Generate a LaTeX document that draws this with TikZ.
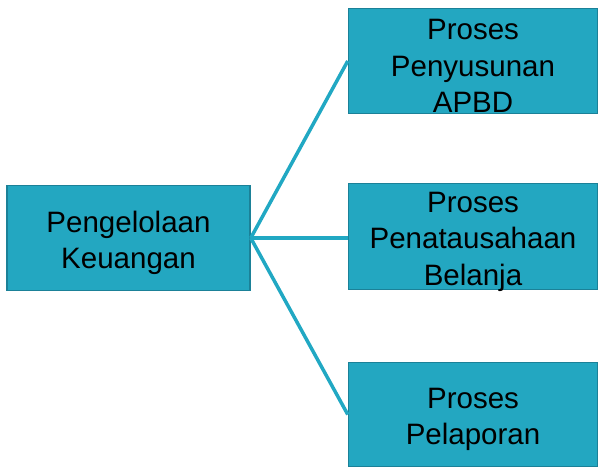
\documentclass[tikz,border=0pt]{standalone}
\usepackage{fontspec}
\setmainfont{Liberation Sans}
\definecolor{boxfill}{HTML}{23A7C1}
\definecolor{boxline}{HTML}{1B8198}
\definecolor{conn}{HTML}{21A8C3}
\begin{document}
\begin{tikzpicture}[x=1pt,y=-1pt,
  box/.style={draw=boxline,fill=boxfill,line width=1.5pt,minimum width=#1,inner sep=0pt},
  txt/.style={align=center,font=\fontsize{29.5}{36.5}\selectfont,inner sep=0pt,yshift=-5pt},
  conn/.style={draw=conn,line width=3.5pt}]
\useasboundingbox (0,0) rectangle (599,468);
\node[box=243pt,minimum height=105pt,label={[txt]center:{Pengelolaan\\Keuangan}}] (a) at (128.5,238) {};
\node[box=249pt,minimum height=105pt,label={[txt]center:{Proses\\Penyusunan\\APBD}}] (b) at (473,61) {};
\node[box=249pt,minimum height=106pt,label={[txt]center:{Proses\\Penatausahaan\\Belanja}}] (c) at (473,236.5) {};
\node[box=249pt,minimum height=104pt,label={[txt]center:{Proses\\Pelaporan}}] (d) at (473,414.5) {};
\draw[conn] (a.east) -- (b.west);
\draw[conn] (a.east) -- (c.west |- a.east);
\draw[conn] (a.east) -- (d.west);
\end{tikzpicture}
\end{document}
